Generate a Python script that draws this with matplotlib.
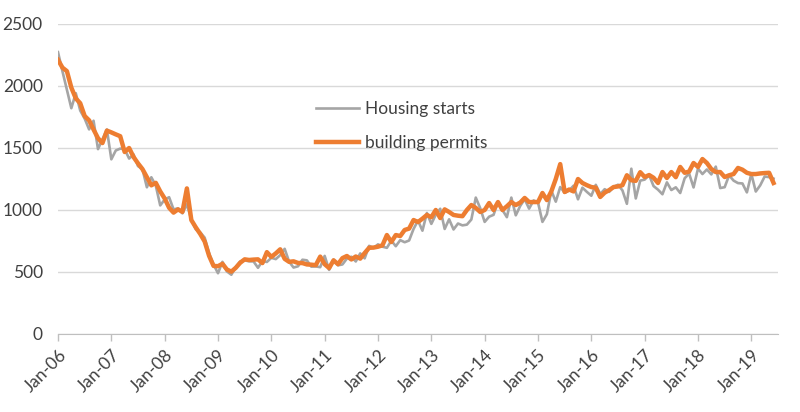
import numpy as np
import matplotlib
matplotlib.use("Agg")
import matplotlib.pyplot as plt

# monthly data, Jan 2006 .. Jun 2019 (thousands, annualised)
starts = [
    2273, 2119, 1969, 1821, 1942, 1802, 1737, 1650, 1720, 1491, 1570, 1649,
    1409, 1480, 1495, 1490, 1415, 1448, 1354, 1330, 1183, 1264, 1197, 1037,
    1084, 1103, 1005, 1013, 973, 1046, 923, 844, 820, 777, 652, 560,
    490, 582, 505, 478, 540, 585, 594, 586, 585, 534, 588, 581,
    614, 604, 636, 687, 583, 536, 546, 599, 594, 543, 545, 539,
    630, 517, 600, 554, 561, 608, 623, 585, 650, 610, 711, 694,
    723, 704, 695, 753, 708, 757, 740, 754, 847, 915, 833, 976,
    888, 962, 1010, 847, 925, 843, 891, 876, 882, 923, 1100, 1015,
    904, 946, 961, 1067, 1000, 942, 1100, 957, 1033, 1087, 1011, 1077,
    1061, 904, 966, 1156, 1067, 1185, 1139, 1157, 1196, 1086, 1180, 1146,
    1115, 1203, 1128, 1168, 1146, 1185, 1204, 1158, 1050, 1333, 1093, 1237,
    1245, 1282, 1193, 1164, 1127, 1223, 1161, 1183, 1137, 1256, 1294, 1182,
    1334, 1290, 1327, 1287, 1350, 1177, 1184, 1280, 1237, 1217, 1214, 1142,
    1291, 1149, 1199, 1270, 1265, 1253,
]
permits = [
    2211, 2148, 2120, 1987, 1900, 1861, 1758, 1723, 1649, 1579, 1540, 1640,
    1626, 1610, 1595, 1468, 1500, 1427, 1376, 1330, 1264, 1199, 1219, 1150,
    1093, 1018, 979, 1005, 985, 1174, 919, 860, 807, 746, 630, 549,
    547, 566, 520, 503, 534, 575, 602, 597, 600, 602, 572, 660,
    622, 650, 683, 606, 582, 586, 573, 572, 561, 559, 555, 624,
    563, 532, 594, 563, 612, 629, 601, 625, 608, 653, 695, 697,
    704, 715, 798, 742, 798, 790, 839, 850, 919, 903, 930, 960,
    942, 1000, 935, 1005, 984, 960, 954, 950, 1000, 1040, 1017, 984,
    1000, 1056, 1000, 1064, 1000, 1030, 1064, 1040, 1060, 1097, 1064, 1064,
    1064, 1137, 1080, 1150, 1250, 1370, 1145, 1165, 1150, 1250, 1218, 1200,
    1185, 1180, 1105, 1140, 1160, 1185, 1190, 1200, 1280, 1240, 1235, 1305,
    1266, 1282, 1260, 1218, 1306, 1258, 1306, 1265, 1347, 1300, 1310, 1379,
    1347, 1411, 1379, 1330, 1306, 1306, 1266, 1280, 1290, 1339, 1325, 1300,
    1290, 1290, 1295, 1298, 1300, 1218,
]
years = list(range(2006, 2020))
tick_labels = ["Jan-%02d" % (y % 100) for y in years]

plt.rcParams['font.family'] = ['Lato', 'DejaVu Sans']

fig = plt.figure(figsize=(8, 4.12), dpi=100)
ax = fig.add_axes([58/800, 1-334/412, 720/800, 310/412])

x = np.arange(len(starts))
ax.plot(x, starts, color='#a5a5a5', lw=1.9, label="Housing starts", zorder=2)
ax.plot(x, permits, color='#ed7d31', lw=3.2, label="building permits",
        zorder=3, solid_joinstyle='round')

ax.set_xlim(0, 162)
ax.set_ylim(0, 2500)
ax.set_yticks(range(0, 2501, 500))
ax.set_xticks([12*i for i in range(len(years))])
ax.set_xticklabels(tick_labels, rotation=45, ha='right', va='top',
                   rotation_mode='anchor')
ax.grid(axis='y', color='#d9d9d9', lw=1)
ax.set_axisbelow(True)
for s in ['top', 'right', 'left']:
    ax.spines[s].set_visible(False)
ax.spines['bottom'].set_color('#bfbfbf')
ax.tick_params(axis='x', colors='#404040', length=5, width=1,
               labelsize=12.5, pad=4)
ax.tick_params(axis='x', color='#bfbfbf')
ax.tick_params(axis='y', colors='#404040', length=0, labelsize=12.5, pad=11)

fig.legend(loc='upper left', bbox_to_anchor=(300/800, 1-85/412),
           frameon=False, fontsize=12.5, handlelength=2.5,
           handletextpad=0.35, labelspacing=1.05, labelcolor='#404040')

fig.savefig("out.png", dpi=100)
